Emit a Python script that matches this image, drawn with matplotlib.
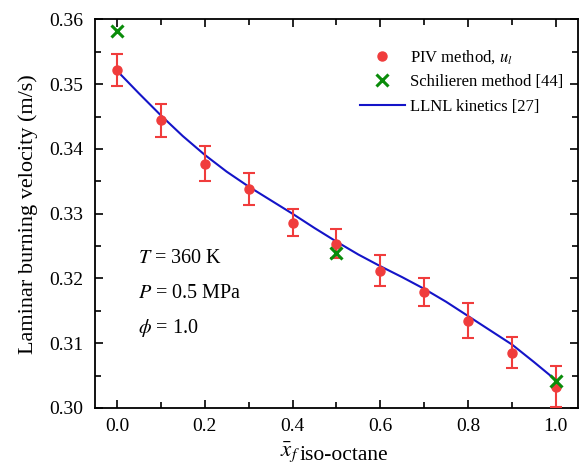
import matplotlib
matplotlib.use("Agg")
import matplotlib.pyplot as plt
from matplotlib.ticker import MultipleLocator, FormatStrFormatter
from matplotlib.lines import Line2D

plt.rcParams['font.family'] = ['Liberation Serif', 'DejaVu Serif']
plt.rcParams['mathtext.fontset'] = 'stix'

# PIV data
x_piv = [0.0, 0.1, 0.2, 0.3, 0.4, 0.5, 0.6, 0.7, 0.8, 0.9, 1.0]
u_piv = [0.3522, 0.3444, 0.3377, 0.3338, 0.3286, 0.3254, 0.3212, 0.3179, 0.3135, 0.3085, 0.3033]
err_piv = [0.0025, 0.0026, 0.0027, 0.0025, 0.0021, 0.0022, 0.0024, 0.0021, 0.0027, 0.0024, 0.0032]

# Schlieren data
x_sch = [0.0, 0.5, 1.0]
u_sch = [0.3582, 0.3240, 0.3041]

# LLNL kinetics
x_llnl = [0.0, 0.05, 0.1, 0.15, 0.2, 0.25, 0.3, 0.35, 0.4, 0.45, 0.5,
          0.55, 0.6, 0.65, 0.7, 0.75, 0.8, 0.85, 0.9, 0.95, 1.0]
u_llnl = [0.3521, 0.3486, 0.3452, 0.3420, 0.3391, 0.3365, 0.3342, 0.3321, 0.3300, 0.3278, 0.3257,
          0.3237, 0.3219, 0.3202, 0.3184, 0.3164, 0.3142, 0.3120, 0.3098, 0.3071, 0.3043]

fig = plt.figure(figsize=(5.79, 4.65), dpi=100)
ax = fig.add_axes([0.164, 0.1226, 0.834, 0.8355])

red = '#f03c3c'
green = '#0a8c0a'
blue = '#1414c8'

ax.plot(x_llnl, u_llnl, color=blue, lw=1.5, zorder=2)
ax.errorbar(x_piv, u_piv, yerr=err_piv, fmt='o', color=red, ms=6.5,
            ecolor=red, elinewidth=1.5, capsize=4, capthick=1.5, zorder=3)
ax.plot(x_sch, u_sch, 'x', color=green, ms=9, mew=2.2, ls='none', zorder=4)

ax.set_xlim(-0.05, 1.05)
ax.set_ylim(0.30, 0.36)
ax.xaxis.set_major_locator(MultipleLocator(0.2))
ax.xaxis.set_minor_locator(MultipleLocator(0.1))
ax.yaxis.set_major_locator(MultipleLocator(0.01))
ax.yaxis.set_minor_locator(MultipleLocator(0.005))
ax.xaxis.set_major_formatter(FormatStrFormatter('%.1f'))
ax.yaxis.set_major_formatter(FormatStrFormatter('%.2f'))
ax.tick_params(which='both', direction='in', top=True, right=True, labelsize=14)
ax.tick_params(which='major', length=6, width=1.2)
ax.tick_params(which='minor', length=4, width=1.2)
ax.tick_params(axis='y', which='major', pad=8.5)
ax.tick_params(axis='x', which='major', pad=7)
for s in ax.spines.values():
    s.set_linewidth(1.3)

ax.set_ylabel('Laminar burning velocity (m/s)', fontsize=16, labelpad=8)
fig.text(280/579, (465-456)/465, r'$\bar{x}_f$', fontsize=16.5, va='baseline', ha='left')
fig.text(300/579, (465-460)/465, 'iso-octane', fontsize=15.5, va='baseline', ha='left')

ax.text(0.089, 0.373, r'$T$ = 360 K', transform=ax.transAxes, fontsize=14.5, va='baseline')
ax.text(0.089, 0.283, r'$P$ = 0.5 MPa', transform=ax.transAxes, fontsize=14.5, va='baseline')
ax.text(0.089, 0.193, r'$\phi$ = 1.0', transform=ax.transAxes, fontsize=14.5, va='baseline')

handles = [
    Line2D([], [], marker='o', color=red, ms=6.5, ls='none'),
    Line2D([], [], marker='x', color=green, ms=9, mew=2.2, ls='none'),
    Line2D([], [], color=blue, lw=1.5),
]
labels = ['PIV method, $u_l$', 'Schilieren method [44]', 'LLNL kinetics [27]']
ax.legend(handles, labels, frameon=False,
          loc='upper right', bbox_to_anchor=(1.0, 0.965), fontsize=12,
          handlelength=2.7, handletextpad=0.3, labelspacing=0.5)

fig.savefig('out.png', dpi=100)
